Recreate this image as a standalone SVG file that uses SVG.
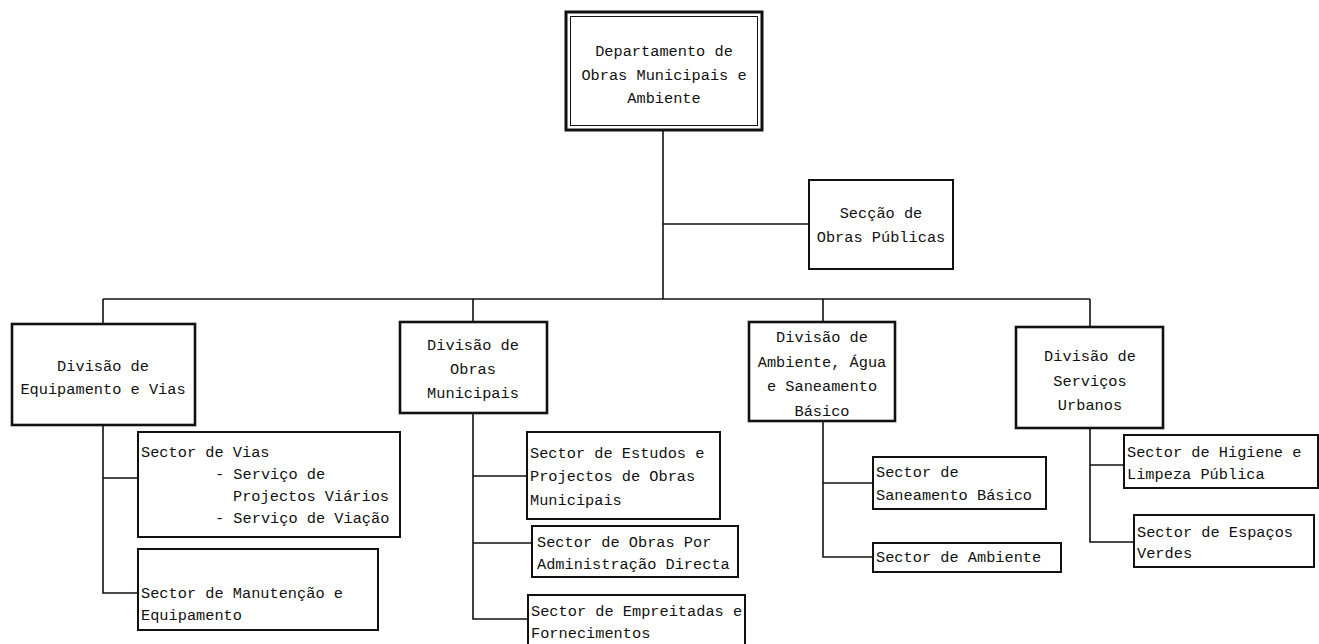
<svg xmlns="http://www.w3.org/2000/svg" width="1319" height="644" viewBox="0 0 1319 644">
  <style>
    text { font-family: "Liberation Mono", "Courier New", monospace; font-size: 15.3px; fill: #111; }
    .c { text-anchor: middle; }
    .box { fill: #fff; stroke: #111; stroke-width: 2; }
    .div { fill: #fff; stroke: #111; stroke-width: 2.6; }
    .outer { fill: #fff; stroke: #111; stroke-width: 3; }
    .inner { fill: none; stroke: #111; stroke-width: 1; }
    .link { fill: none; stroke: #111; stroke-width: 1.6; }
  </style>

  <!-- connectors -->
  <g id="connectors">
    <path class="link" d="M663 130 V299"/>
    <path class="link" d="M663 224 H809"/>
    <path class="link" d="M103 299 H1090"/>
    <path class="link" d="M103 299 V324 M473 299 V322 M823 299 V322 M1090 299 V327"/>
    <!-- equipment and roads -->
    <path class="link" d="M103 425 V593 H138 M103 478 H138"/>
    <!-- municipal works -->
    <path class="link" d="M473 413 V619 H528 M473 476 H527 M473 543 H532"/>
    <!-- environment, water and sanitation -->
    <path class="link" d="M823 421 V557 H873 M823 483 H873"/>
    <!-- urban services -->
    <path class="link" d="M1090 428 V542 H1134 M1090 465 H1124"/>
  </g>

  <!-- top department -->
  <g id="departamento">
    <rect class="outer" x="566" y="12" width="196" height="118"/>
    <rect class="inner" x="570.5" y="16.5" width="187" height="109"/>
    <text class="c" x="664" y="56">Departamento de</text>
    <text class="c" x="664" y="80">Obras Municipais e</text>
    <text class="c" x="664" y="103">Ambiente</text>
  </g>

  <g id="seccao-obras-publicas">
    <rect class="box" x="809" y="180" width="144" height="89"/>
    <text class="c" x="881" y="218">Secção de</text>
    <text class="c" x="881" y="242">Obras Públicas</text>
  </g>

  <!-- divisions -->
  <g id="divisao-equipamento-vias">
    <rect class="div" x="12" y="324" width="183" height="101"/>
    <text class="c" x="103" y="371">Divisão de</text>
    <text class="c" x="103" y="394">Equipamento e Vias</text>
  </g>

  <g id="divisao-obras-municipais">
    <rect class="div" x="400" y="322" width="147" height="91"/>
    <text class="c" x="473" y="350">Divisão de</text>
    <text class="c" x="473" y="374">Obras</text>
    <text class="c" x="473" y="398">Municipais</text>
  </g>

  <g id="divisao-ambiente">
    <rect class="div" x="749" y="322" width="146" height="99"/>
    <text class="c" x="822" y="342">Divisão de</text>
    <text class="c" x="822" y="367">Ambiente, Água</text>
    <text class="c" x="822" y="391">e Saneamento</text>
    <text class="c" x="822" y="416">Básico</text>
  </g>

  <g id="divisao-servicos-urbanos">
    <rect class="div" x="1016" y="327" width="147" height="101"/>
    <text class="c" x="1090" y="361">Divisão de</text>
    <text class="c" x="1090" y="386">Serviços</text>
    <text class="c" x="1090" y="410">Urbanos</text>
  </g>

  <!-- sectors: equipment and roads -->
  <g id="sector-vias">
    <rect class="box" x="138" y="432" width="262" height="105"/>
    <text x="141" y="457">Sector de Vias</text>
    <text x="215" y="479">- Serviço de</text>
    <text x="233" y="501">Projectos Viários</text>
    <text x="215" y="523">- Serviço de Viação</text>
  </g>

  <g id="sector-manutencao">
    <rect class="box" x="138" y="549" width="240" height="81"/>
    <text x="141" y="598">Sector de Manutenção e</text>
    <text x="141" y="620">Equipamento</text>
  </g>

  <!-- sectors: municipal works -->
  <g id="sector-estudos">
    <rect class="box" x="527" y="432" width="193" height="87"/>
    <text x="530" y="458">Sector de Estudos e</text>
    <text x="530" y="481">Projectos de Obras</text>
    <text x="530" y="505">Municipais</text>
  </g>

  <g id="sector-administracao-directa">
    <rect class="box" x="532" y="526" width="206" height="51"/>
    <text x="537" y="547">Sector de Obras Por</text>
    <text x="537" y="569">Administração Directa</text>
  </g>

  <g id="sector-empreitadas">
    <rect class="box" x="528" y="595" width="217" height="60"/>
    <text x="531" y="616">Sector de Empreitadas e</text>
    <text x="531" y="638">Fornecimentos</text>
  </g>

  <!-- sectors: environment -->
  <g id="sector-saneamento">
    <rect class="box" x="873" y="457" width="173" height="52"/>
    <text x="876" y="477">Sector de</text>
    <text x="876" y="500">Saneamento Básico</text>
  </g>

  <g id="sector-ambiente">
    <rect class="box" x="873" y="543" width="188" height="29"/>
    <text x="876" y="562">Sector de Ambiente</text>
  </g>

  <!-- sectors: urban services -->
  <g id="sector-higiene">
    <rect class="box" x="1124" y="435" width="194" height="53"/>
    <text x="1127" y="457">Sector de Higiene e</text>
    <text x="1127" y="479">Limpeza Pública</text>
  </g>

  <g id="sector-espacos-verdes">
    <rect class="box" x="1134" y="515" width="180" height="52"/>
    <text x="1137" y="537">Sector de Espaços</text>
    <text x="1137" y="558">Verdes</text>
  </g>
</svg>
